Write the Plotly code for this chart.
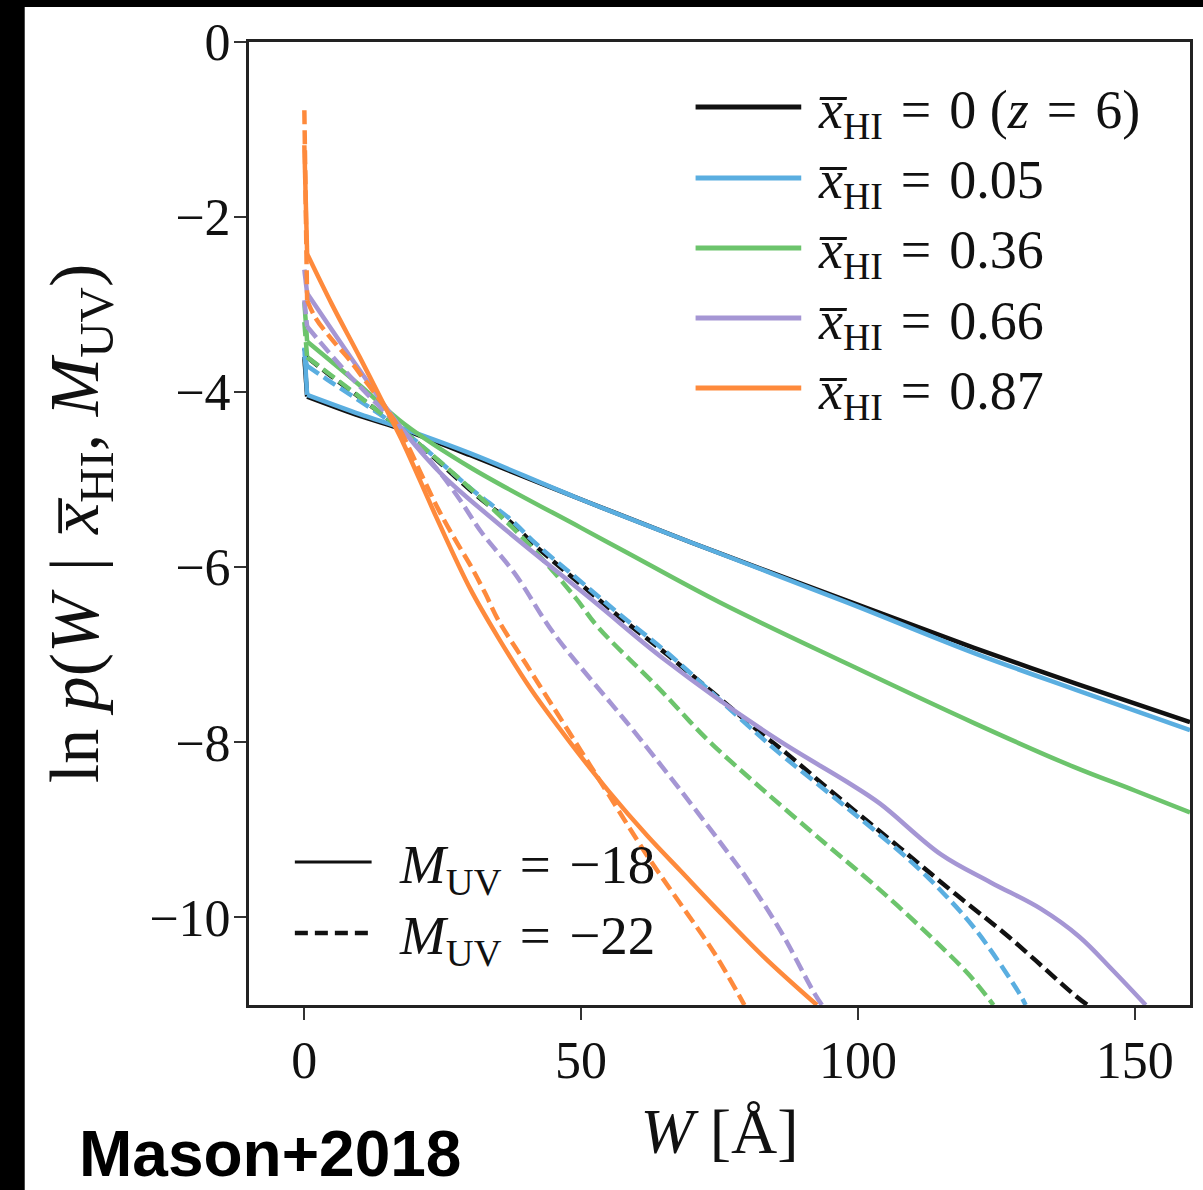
import plotly.graph_objects as go

# ---- series: equivalent width W [Angstrom] and ln p(W | xHI, MUV) ----
# xHI = 0 (z = 6)
w_x000_m18 = [0, 0.5, 10, 18, 30, 49, 70, 98, 121, 139.4, 160]
p_x000_m18 = [-3.6, -4.05, -4.27, -4.43, -4.72, -5.2, -5.72, -6.38, -6.92, -7.33, -7.77]
w_x000_m22 = [0, 0.5, 4.5, 18, 31.5, 37, 42, 51, 57, 66, 83, 87, 95, 107.5, 117, 127.4, 139.4, 141.5]
p_x000_m22 = [-3.5, -3.6, -3.8, -4.45, -5.2, -5.47, -5.77, -6.25, -6.57, -7.02, -7.92, -8.12, -8.55, -9.2, -9.7, -10.23, -10.9, -11.0]

# xHI = 0.05
w_x005_m18 = [0, 0.5, 10, 18, 30, 49, 70, 98, 121, 139.4, 160]
p_x005_m18 = [-3.49, -4.03, -4.25, -4.42, -4.7, -5.2, -5.72, -6.4, -6.98, -7.4, -7.86]
w_x005_m22 = [0, 0.5, 4, 18, 31, 37, 42, 51, 57, 66, 80, 85.4, 97.5, 109.4, 115.4, 121.4, 129, 130.3]
p_x005_m22 = [-3.6, -3.7, -3.85, -4.45, -5.15, -5.44, -5.74, -6.22, -6.54, -7.0, -7.8, -8.1, -8.72, -9.35, -9.72, -10.15, -10.85, -11.0]

# xHI = 0.36
w_x036_m18 = [0, 0.5, 10, 18, 30, 50, 58.5, 75, 98, 121, 139, 150, 160]
p_x036_m18 = [-2.97, -3.42, -3.92, -4.36, -4.86, -5.55, -5.84, -6.4, -7.1, -7.78, -8.28, -8.55, -8.8]
w_x036_m22 = [0, 0.5, 18, 30, 40, 49, 53, 64, 73, 83, 94, 103, 112, 120, 124.5]
p_x036_m22 = [-3.2, -3.6, -4.45, -5.1, -5.7, -6.35, -6.68, -7.38, -7.98, -8.55, -9.15, -9.63, -10.15, -10.65, -11.0]

# xHI = 0.66
w_x066_m18 = [0, 0.5, 10, 18, 25, 35, 52.5, 65, 85, 98, 104, 115, 124, 133, 140, 146, 152]
p_x066_m18 = [-2.6, -2.87, -3.75, -4.45, -4.95, -5.5, -6.4, -7.05, -7.95, -8.45, -8.7, -9.28, -9.6, -9.9, -10.22, -10.6, -11.0]
w_x066_m22 = [0, 0.5, 8, 18, 24, 28, 32, 38, 45, 56, 59, 68, 77, 80, 86, 92, 93.5]
p_x066_m22 = [-2.95, -3.25, -3.8, -4.45, -4.88, -5.22, -5.6, -6.07, -6.75, -7.6, -7.83, -8.55, -9.3, -9.56, -10.15, -10.85, -11.0]

# xHI = 0.87
w_x087_m18 = [0, 0.5, 5, 10, 15, 18, 24, 30, 35, 41, 48, 55, 62, 68, 74, 83, 92.6]
p_x087_m18 = [-1.18, -2.42, -3.0, -3.6, -4.22, -4.6, -5.45, -6.25, -6.8, -7.4, -8.0, -8.56, -9.07, -9.47, -9.87, -10.45, -11.0]
w_x087_m22 = [0, 0.5, 2, 5, 8, 11, 14, 17, 21.6, 24.3, 27.3, 30.2, 32.7, 35, 40, 45, 50, 55, 62, 68, 74, 79.5]
p_x087_m22 = [-0.78, -2.95, -3.15, -3.4, -3.62, -3.87, -4.12, -4.4, -5.0, -5.35, -5.69, -6.0, -6.3, -6.6, -7.1, -7.6, -8.1, -8.6, -9.3, -9.85, -10.4, -11.0]

xhi_labels = ["0 (<i>z</i>\u2004=\u20046)", "0.05", "0.36", "0.66", "0.87"]
xhi_colors = ["#111111", "#5aaee0", "#6cc46c", "#a596d4", "#fe8a3c"]
muv_labels = ["\u221218", "\u221222"]
muv_dashes = ["solid", "14px,6px"]

x_ticks = [0, 50, 100, 150]
y_ticks = [0, -2, -4, -6, -8, -10]

series = [
    (w_x000_m18, p_x000_m18, w_x000_m22, p_x000_m22),
    (w_x005_m18, p_x005_m18, w_x005_m22, p_x005_m22),
    (w_x036_m18, p_x036_m18, w_x036_m22, p_x036_m22),
    (w_x066_m18, p_x066_m18, w_x066_m22, p_x066_m22),
    (w_x087_m18, p_x087_m18, w_x087_m22, p_x087_m22),
]

SERIF = "Liberation Serif"
EQ = "\u2004=\u2004"

fig = go.Figure()
for (ws, ps, wd, pd_), color, lab in zip(series, xhi_colors, xhi_labels):
    for w, p, dash in ((ws, ps, muv_dashes[0]), (wd, pd_, muv_dashes[1])):
        # the jump at W = 0 stays straight; the tail is drawn smooth
        fig.add_trace(go.Scatter(x=w[:2], y=p[:2], mode="lines",
                                 line=dict(color=color, width=4.5, dash=dash),
                                 hoverinfo="skip"))
        fig.add_trace(go.Scatter(x=w[1:], y=p[1:], mode="lines",
                                 line=dict(color=color, width=4.5, dash=dash,
                                           shape="spline", smoothing=1.0),
                                 hoverinfo="skip"))

# pixel -> paper helpers (plot area spans 249..1193 x 42..1005)
L, R, T, B = 249, 1193, 42, 1005
def px(xp):
    return (xp - L) / (R - L)
def py(yp):
    return (B - yp) / (B - T)

shapes = []
annotations = []

# colour key (upper right)
row_y = [107, 178, 248, 318, 388]
for yy, color, lab in zip(row_y, xhi_colors, xhi_labels):
    shapes.append(dict(type="line", xref="paper", yref="paper",
                       x0=px(697), x1=px(803), y0=py(yy), y1=py(yy),
                       line=dict(color=color, width=5)))
    annotations.append(dict(xref="paper", yref="paper", x=px(818), y=py(yy + 6),
                            xanchor="left", yanchor="middle", showarrow=False,
                            text="<i>x\u0305</i><sub>HI</sub>" + EQ + lab,
                            font=dict(family=SERIF, size=54, color="#111")))

# line-style key (lower left)
style_y = [862, 933]
for yy, dash, lab in zip(style_y, muv_dashes, muv_labels):
    shapes.append(dict(type="line", xref="paper", yref="paper",
                       x0=px(295), x1=px(372), y0=py(yy), y1=py(yy),
                       line=dict(color="#111", width=3 if dash == "solid" else 4.5,
                                 dash="solid" if dash == "solid" else "13px,7px")))
    annotations.append(dict(xref="paper", yref="paper", x=px(397), y=py(yy + 6),
                            xanchor="left", yanchor="middle", showarrow=False,
                            text="<i>M</i><sub>UV</sub>" + EQ + lab,
                            font=dict(family=SERIF, size=55, color="#111")))

# frame strips along the left and top edges
shapes.append(dict(type="rect", xref="paper", yref="paper", layer="above",
                   x0=px(-20), x1=px(24), y0=py(1220), y1=py(-20),
                   fillcolor="black", line=dict(width=0)))
shapes.append(dict(type="rect", xref="paper", yref="paper", layer="above",
                   x0=px(-20), x1=px(1230), y0=py(7), y1=py(-20),
                   fillcolor="black", line=dict(width=0)))

annotations.append(dict(xref="paper", yref="paper", x=px(76), y=py(1192),
                        xanchor="left", yanchor="bottom", showarrow=False,
                        text="<b>Mason+2018</b>",
                        font=dict(family="Liberation Sans", size=64, color="black")))

axis_common = dict(ticks="outside", ticklen=12, tickwidth=2, tickcolor="#333",
                   showline=True, linewidth=3, linecolor="#222", mirror=True,
                   showgrid=False, zeroline=False,
                   tickfont=dict(family=SERIF, size=52, color="#111"))

fig.update_layout(
    width=1203, height=1190,
    margin=dict(l=L, r=1203 - R, t=T, b=1190 - B),
    paper_bgcolor="white", plot_bgcolor="white",
    showlegend=False,
    shapes=shapes, annotations=annotations,
    xaxis=dict(range=[-10, 160], tickvals=x_ticks, ticklabelstandoff=-4,
               title=dict(text="<i>W</i> [Å]", standoff=20,
                          font=dict(family=SERIF, size=64, color="#111")),
               **axis_common),
    yaxis=dict(range=[-11, 0], tickvals=y_ticks, ticklabelstandoff=-7,
               title=dict(text="ln <i>p</i>(<i>W</i>\u2004|\u2004<i>x\u0305</i><sub>HI</sub>, <i>M</i><sub>UV</sub>)",
                          standoff=28,
                          font=dict(family=SERIF, size=70, color="#111")),
               **axis_common),
)

fig.write_html("out.html")
